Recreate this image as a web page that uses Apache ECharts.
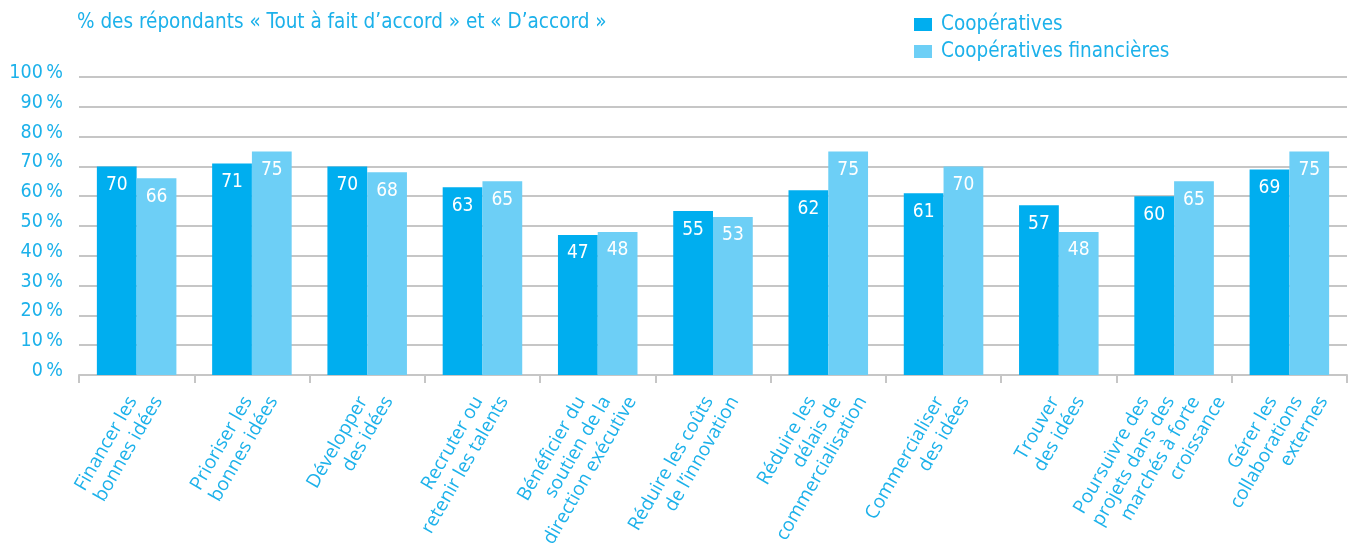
<!DOCTYPE html>
<html>
<head>
<meta charset="utf-8">
<script src="https://cdn.jsdelivr.net/npm/echarts@6/dist/echarts.min.js"></script>
<style>
  html, body { margin: 0; padding: 0; background: #fff; }
  #chart { width: 1351px; height: 545px; }
</style>
</head>
<body>
<div id="chart"></div>
<script>
// Innovation priorities: share of respondents who agree
const categories = [
  'Financer les\nbonnes idées',
  'Prioriser les\nbonnes idées',
  'Développer\ndes idées',
  'Recruter ou\nretenir les talents',
  'Bénéficier du\nsoutien de la\ndirection exécutive',
  'Réduire les coûts\nde l’innovation',
  'Réduire les\ndélais de\ncommercialisation',
  'Commercialiser\ndes idées',
  'Trouver\ndes idées',
  'Poursuivre des\nprojets dans des\nmarchés à forte\ncroissance',
  'Gérer les\ncollaborations\nexternes'
];
const cooperatives = [70, 71, 70, 63, 47, 55, 62, 61, 57, 60, 69];
const cooperativesFinancieres = [66, 75, 68, 65, 48, 53, 75, 70, 48, 65, 75];
const seriesNames = ['Coopératives', 'Coopératives financières'];
const titleText = '% des répondants « Tout à fait d’accord » et « D’accord »';

const BLUE = '#00aeef';
const LIGHT = '#6dcff6';
const TEXT = '#1cb1ea';
const GRID = '#c6c6c6';
const NARROW = "'DejaVu Sans Condensed', 'DejaVu Sans', sans-serif";
const CAT_FONT = "'Open Sans', sans-serif";
const CAT_SIZE = 19;
const CAT_LINE = 22;

// Rotated category labels: each line is pushed along its own baseline so that
// the line ends sit on one horizontal row below the axis.
const STEP = CAT_LINE / Math.sqrt(3);
const catRich = {};
for (let n = 1; n <= 4; n++) {
  for (let k = 0; k < n; k++) {
    catRich['l' + n + k] = {
      align: 'right',
      color: TEXT,
      fontSize: CAT_SIZE,
      lineHeight: CAT_LINE,
      fontFamily: CAT_FONT,
      padding: [0, STEP * (2 - k) + STEP / 2 * (n - 2), 0, 0]
    };
  }
}
function catFormatter(value) {
  const lines = value.split('\n');
  const n = lines.length;
  return lines.map((t, k) => '{l' + n + k + '|' + t + '}').join('\n');
}

const chart = echarts.init(document.getElementById('chart'));

const valueLabel = {
  show: true,
  position: 'insideTop',
  distance: 9,
  color: '#ffffff',
  fontSize: 19,
  fontFamily: NARROW
};

chart.setOption({
  animation: false,
  textStyle: { fontFamily: NARROW },
  title: {
    text: titleText,
    left: 77,
    top: 12,
    padding: 0,
    textStyle: { color: TEXT, fontSize: 20.5, fontWeight: 'normal', fontFamily: NARROW }
  },
  legend: {
    orient: 'vertical',
    left: 909,
    top: 9,
    itemWidth: 18,
    itemHeight: 13,
    itemGap: 6,
    icon: 'rect',
    textStyle: { color: TEXT, fontSize: 20.5, fontFamily: NARROW, padding: [0, 0, 0, 4] },
    data: seriesNames
  },
  grid: { left: 79, right: 4, top: 77, bottom: 170, containLabel: false, outerBoundsMode: 'none' },
  xAxis: {
    type: 'category',
    data: categories,
    axisLine: { lineStyle: { color: GRID, width: 2 } },
    axisTick: { show: true, length: 8, lineStyle: { color: GRID, width: 2 }, alignWithLabel: false },
    axisLabel: {
      interval: 0,
      rotate: 60,
      margin: -4,
      padding: [42, 0, 0, 0],
      formatter: catFormatter,
      rich: catRich,
      color: TEXT,
      fontSize: CAT_SIZE,
      lineHeight: CAT_LINE,
      fontFamily: CAT_FONT
    }
  },
  yAxis: {
    type: 'value',
    min: 0,
    max: 100,
    interval: 10,
    axisLine: { show: false },
    axisTick: { show: false },
    splitLine: { lineStyle: { color: GRID, width: 2 } },
    axisLabel: {
      formatter: '{value}\u2009%',
      color: TEXT,
      fontSize: 19.5,
      margin: 16,
      verticalAlign: 'bottom',
      lineHeight: 8,
      fontFamily: NARROW
    }
  },
  series: [
    {
      name: seriesNames[0],
      type: 'bar',
      data: cooperatives,
      barGap: '0%',
      barCategoryGap: '31%',
      itemStyle: { color: BLUE },
      label: valueLabel
    },
    {
      name: seriesNames[1],
      type: 'bar',
      data: cooperativesFinancieres,
      itemStyle: { color: LIGHT },
      label: valueLabel
    }
  ]
});
</script>
</body>
</html>
